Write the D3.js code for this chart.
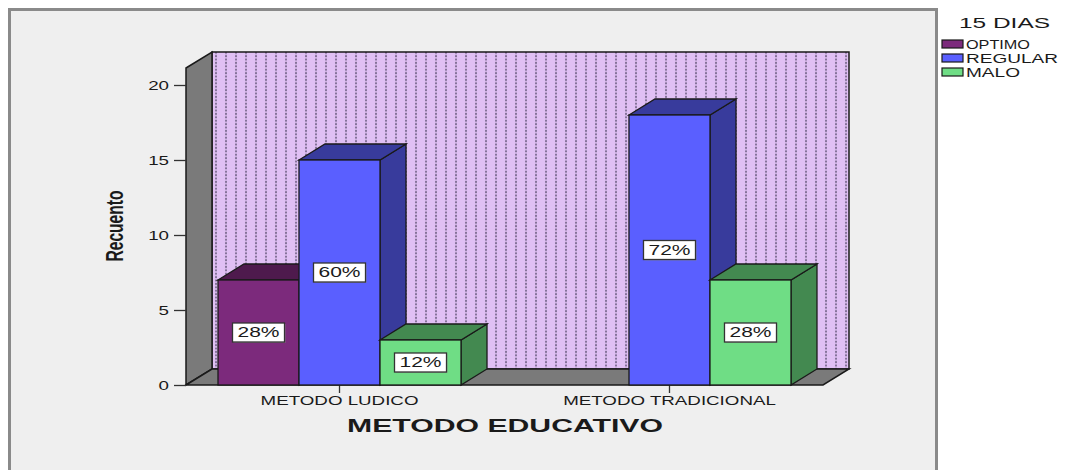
<!DOCTYPE html>
<html>
<head>
<meta charset="utf-8">
<script src="https://cdn.jsdelivr.net/npm/d3@7"></script>
<style>
  html, body { margin: 0; padding: 0; background: #ffffff; }
  svg { display: block; }
  text { font-family: "Liberation Sans", Arial, sans-serif; fill: #1a1a1a; }
</style>
</head>
<body>
<svg id="chart" width="1067" height="470"></svg>
<script>
// ---- data ----
const categories = ["METODO LUDICO", "METODO TRADICIONAL"];
const series = ["OPTIMO", "REGULAR", "MALO"];
const optimo = [7, 0];
const regular = [15, 18];
const malo = [3, 7];
const optimoPct = ["28%", ""];
const regularPct = ["60%", "72%"];
const maloPct = ["12%", "28%"];
const yTicks = [0, 5, 10, 15, 20];
const legendTitle = "15 DIAS";
const xTitle = "METODO EDUCATIVO";
const yTitle = "Recuento";

// ---- styles ----
const frontColors = { OPTIMO: "#7c2a7c", REGULAR: "#5a5fff", MALO: "#6fdd85" };
const darkColors  = { OPTIMO: "#4e1a4d", REGULAR: "#383b9c", MALO: "#438950" };
const edge = "#1a1a1a";
const SX = 1.5; // horizontal text stretch of the original picture

const svg = d3.select("#chart");

// frame
svg.append("rect").attr("x", 9.5).attr("y", 9.5).attr("width", 927).attr("height", 480)
  .attr("fill", "#efefef").attr("stroke", "#8a8a8a").attr("stroke-width", 3);

// scales
const y = d3.scaleLinear().domain([0, 20]).range([385, 85]);
const xLeft = 186, xRight = 823, depthX = 26, depthY = 16, wallTop = 68;
const x0 = d3.scaleBand().domain(categories).range([xLeft, xRight])
  .paddingInner(0.2636).paddingOuter(0.097);
const x1 = d3.scaleBand().domain(series).range([0, x0.bandwidth()]);

// pattern for back wall
const defs = svg.append("defs");
const pat = defs.append("pattern").attr("id", "dots").attr("patternUnits", "userSpaceOnUse")
  .attr("width", 10).attr("height", 3.4).attr("x", xLeft + depthX + 3).attr("y", 0);
pat.append("rect").attr("width", 10).attr("height", 3.4).attr("fill", "#e0c0f4");
pat.append("rect").attr("x", 0).attr("y", 0.7).attr("width", 2).attr("height", 2).attr("fill", "#85739a");

const base = y(0);
// back wall
svg.append("rect").attr("x", xLeft + depthX).attr("y", wallTop - depthY)
  .attr("width", xRight - xLeft).attr("height", base - wallTop)
  .attr("fill", "url(#dots)").attr("stroke", edge).attr("stroke-width", 1.5);
// left wall
svg.append("polygon").attr("points", [
  [xLeft, wallTop], [xLeft + depthX, wallTop - depthY], [xLeft + depthX, base - depthY], [xLeft, base]
].map(p => p.join(",")).join(" ")).attr("fill", "#7a7a7a").attr("stroke", edge).attr("stroke-width", 1.5);
// floor
svg.append("polygon").attr("points", [
  [xLeft, base], [xLeft + depthX, base - depthY], [xRight + depthX, base - depthY], [xRight, base]
].map(p => p.join(",")).join(" ")).attr("fill", "#7a7a7a").attr("stroke", edge).attr("stroke-width", 1.5);

// y axis
const yAxis = svg.append("g").attr("transform", `translate(${xLeft},0)`)
  .call(d3.axisLeft(y).tickValues(yTicks).tickSize(12).tickFormat(d3.format("d")));
yAxis.select(".domain").remove();
yAxis.selectAll(".tick line").attr("stroke", "#333").attr("stroke-width", 1.3);
yAxis.selectAll(".tick text")
  .attr("x", -17 / SX).attr("dy", "0.36em")
  .attr("transform", `scale(${SX},1)`)
  .style("font-size", "12.5px").attr("fill", "#1a1a1a");

// x axis
const xAxis = svg.append("g").attr("transform", `translate(0,${base})`)
  .call(d3.axisBottom(x0).tickSize(8));
xAxis.select(".domain").remove();
xAxis.selectAll(".tick line").attr("stroke", "#333").attr("stroke-width", 1.3);
xAxis.selectAll(".tick").each(function(d) {
  const t = d3.select(this).select("text");
  t.attr("y", 20).attr("dy", 0).attr("x", 0)
    .attr("transform", `scale(${SX},1)`)
    .style("font-size", "12.5px").attr("fill", "#1a1a1a");
});

// bars
const rows = categories.map((c, i) => ({
  cat: c,
  vals: [
    { s: "OPTIMO", v: optimo[i], p: optimoPct[i] },
    { s: "REGULAR", v: regular[i], p: regularPct[i] },
    { s: "MALO", v: malo[i], p: maloPct[i] }
  ]
}));

const barsG = svg.append("g");
rows.forEach(r => {
  r.vals.forEach(b => {
    if (!b.v) return;
    const bx = x0(r.cat) + x1(b.s), bw = x1.bandwidth();
    const by = y(b.v);
    const g = barsG.append("g");
    g.append("polygon").attr("points", [
      [bx + bw, by], [bx + bw + depthX, by - depthY], [bx + bw + depthX, base - depthY], [bx + bw, base]
    ].map(p => p.join(",")).join(" ")).attr("fill", darkColors[b.s]).attr("stroke", edge).attr("stroke-width", 1.3);
    g.append("polygon").attr("points", [
      [bx, by], [bx + depthX, by - depthY], [bx + bw + depthX, by - depthY], [bx + bw, by]
    ].map(p => p.join(",")).join(" ")).attr("fill", darkColors[b.s]).attr("stroke", edge).attr("stroke-width", 1.3);
    g.append("rect").attr("x", bx).attr("y", by).attr("width", bw).attr("height", base - by)
      .attr("fill", frontColors[b.s]).attr("stroke", edge).attr("stroke-width", 1.3);
  });
});

// labels (drawn after all bars)
rows.forEach(r => {
  r.vals.forEach(b => {
    if (!b.v || !b.p) return;
    const cx = x0(r.cat) + x1(b.s) + x1.bandwidth() / 2;
    const cy = (y(b.v) + base) / 2;
    svg.append("rect").attr("x", cx - 25).attr("y", cy - 8.5).attr("width", 52).attr("height", 19)
      .attr("fill", "#9a9a9a").attr("opacity", 0.6);
    svg.append("rect").attr("x", cx - 26).attr("y", cy - 9.5).attr("width", 52).attr("height", 19)
      .attr("fill", "#ffffff").attr("stroke", "#333").attr("stroke-width", 1.3);
    svg.append("text").attr("x", cx / SX).attr("y", cy + 5)
      .attr("transform", `scale(${SX},1)`).attr("text-anchor", "middle")
      .style("font-size", "14px").text(b.p);
  });
});

// axis titles
svg.append("text").attr("x", 505).attr("y", 432).attr("text-anchor", "middle")
  .attr("textLength", 316).attr("lengthAdjust", "spacingAndGlyphs")
  .style("font-size", "17.5px").style("font-weight", "bold").text(xTitle);

svg.append("text")
  .attr("transform", `translate(123,226) scale(${SX},1) rotate(-90)`)
  .attr("text-anchor", "middle").attr("textLength", 71).attr("lengthAdjust", "spacingAndGlyphs")
  .style("font-size", "16px").style("font-weight", "bold").text(yTitle);

// legend
const lg = svg.append("g");
lg.append("text").attr("x", 959).attr("y", 28).attr("textLength", 91).attr("lengthAdjust", "spacingAndGlyphs")
  .style("font-size", "14px").text(legendTitle);
const legendWidths = [64, 92, 54];
series.forEach((s, i) => {
  const yy = 40 + i * 14;
  lg.append("rect").attr("x", 942).attr("y", yy).attr("width", 21).attr("height", 8)
    .attr("fill", frontColors[s]).attr("stroke", edge).attr("stroke-width", 1.2);
  lg.append("text").attr("x", 966).attr("y", yy + 8.8)
    .attr("textLength", legendWidths[i]).attr("lengthAdjust", "spacingAndGlyphs")
    .style("font-size", "12.5px").text(s);
});
</script>
</body>
</html>
